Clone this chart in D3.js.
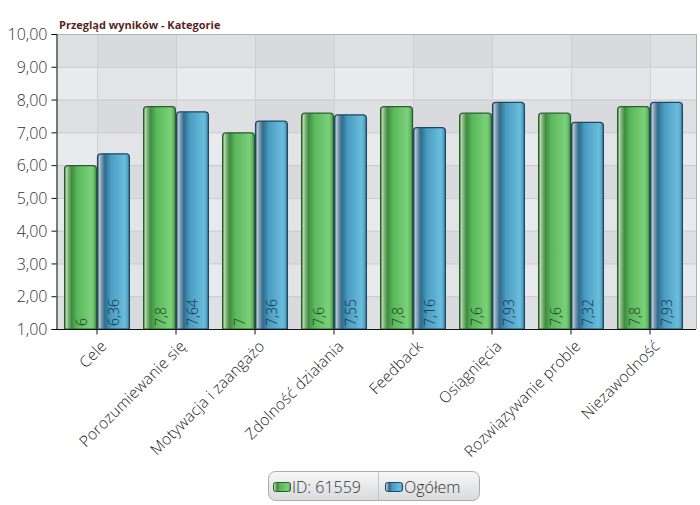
<!DOCTYPE html>
<html><head><meta charset="utf-8">
<script src="https://cdn.jsdelivr.net/npm/d3@7"></script>
<style>body{margin:0;background:#fff}svg{display:block}</style>
</head><body>
<script>
const title = "Przegląd wyników - Kategorie";
const categories = ["Cele","Porozumiewanie się","Motywacja i zaangażo","Zdolność działania","Feedback","Osiągnięcia","Rozwiązywanie proble","Niezawodność"];
const seriesNames = ["ID: 61559","Ogółem"];
const seriesA = [6,7.8,7,7.6,7.8,7.6,7.6,7.8];
const seriesB = [6.36,7.64,7.36,7.55,7.16,7.93,7.32,7.93];
const yTicks = [1,2,3,4,5,6,7,8,9,10];

const W=700,H=505;
const m={l:56,t:34,r:696,b:329};
const svg=d3.select("body").append("svg").attr("width",W).attr("height",H);
const defs=svg.append("defs");
function grad(id,stops,vertical){
  const g=defs.append("linearGradient").attr("id",id).attr("x1",0).attr("y1",0).attr("x2",vertical?0:1).attr("y2",vertical?1:0);
  stops.forEach(s=>g.append("stop").attr("offset",s[0]).attr("stop-color",s[1]));
}
grad("gG",[[0,"#4f8f4f"],[0.06,"#b4d4ac"],[0.13,"#78ae74"],[0.22,"#3f8c3f"],[0.4,"#5bb85b"],[0.85,"#7bd17b"],[0.96,"#5aae5a"],[1,"#2f6f2f"]]);
grad("gB",[[0,"#3a6a88"],[0.06,"#b6c4d0"],[0.14,"#7692a8"],[0.23,"#2c6d8f"],[0.42,"#4a9cc2"],[0.86,"#6bbddc"],[0.96,"#4f9ec0"],[1,"#245e7c"]]);
grad("gL",[[0,"#f7f7f7"],[1,"#d9dadc"]],true);

const x=d3.scaleBand().domain(categories).range([m.l+1.5,689.5]).paddingInner(0).paddingOuter(0);
const y=d3.scaleLinear().domain([1,10]).range([m.b,m.t]);
const xs=d3.scaleBand().domain([0,1]).range([0,x.bandwidth()]).paddingInner(0).paddingOuter(0.2);

// background bands
const plot=svg.append("g");
plot.append("rect").attr("x",m.l).attr("y",m.t).attr("width",m.r-m.l).attr("height",m.b-m.t).attr("fill","#e6e7ea");
yTicks.slice(0,-1).forEach((t,i)=>{
  plot.append("rect").attr("x",m.l).attr("y",y(t+1)).attr("width",m.r-m.l).attr("height",y(t)-y(t+1))
    .attr("fill",(9-i)%2===0?"#e9eaed":"#dfe0e4");
});
categories.forEach((c,i)=>{
  if(i%2===0){
    const cx=x(c)+x.bandwidth()/2;
    plot.append("rect").attr("x",cx).attr("y",m.t).attr("width",x.bandwidth()).attr("height",m.b-m.t)
      .attr("fill","#000").attr("opacity",0.025);
  }
});
// grid
yTicks.forEach(t=>plot.append("line").attr("x1",m.l).attr("x2",m.r).attr("y1",y(t)+0.5).attr("y2",y(t)+0.5).attr("stroke","#c9cace"));
categories.forEach(c=>{const cx=Math.round(x(c)+x.bandwidth()/2)+0.5;
  plot.append("line").attr("x1",cx).attr("x2",cx).attr("y1",m.t).attr("y2",m.b).attr("stroke","#cfd0d4");});
plot.append("line").attr("x1",m.r+0.5).attr("x2",m.r+0.5).attr("y1",m.t).attr("y2",m.b).attr("stroke","#b0b1b5");
plot.append("line").attr("x1",m.l).attr("x2",m.r).attr("y1",m.t+0.5).attr("y2",m.t+0.5).attr("stroke","#b0b1b5");

// title
svg.append("text").attr("x",59).attr("y",29).text(title).attr("font-family","'Open Sans',sans-serif")
  .attr("font-weight","bold").attr("font-size",11).attr("fill","#5a1f22");

// bars
function barPath(x0,y0,w,h,r){
  return `M${x0},${y0+h}V${y0+r}Q${x0},${y0} ${x0+r},${y0}H${x0+w-r}Q${x0+w},${y0} ${x0+w},${y0+r}V${y0+h}Z`;
}
const fmt=v=>String(v).replace(".",",");
const series=[seriesA,seriesB];
const fills=["url(#gG)","url(#gB)"],strokes=["#2c5e2c","#1d4a61"],txt=["#1b3a1b","#162e44"];
series.forEach((vals,s)=>{
  const g=svg.append("g");
  vals.forEach((v,i)=>{
    const bx=x(categories[i])+xs(s), bw=xs.bandwidth();
    g.append("path").attr("d",barPath(bx+0.5,y(v)+0.5,bw-1,m.b-y(v)-0.5,3.5))
      .attr("fill",fills[s]).attr("stroke",strokes[s]).attr("stroke-width",1.2);
    const tx=bx+bw/2+6, ty=m.b-3;
    g.append("text").attr("transform",`translate(${tx},${ty}) rotate(-90)`).text(fmt(v))
      .attr("font-family","'Open Sans',sans-serif").attr("font-weight",300).attr("font-size",14).attr("fill",txt[s]);
  });
});

// axes
const ya=svg.append("g").attr("transform",`translate(${m.l+0.5},0)`)
  .call(d3.axisLeft(y).tickValues(yTicks).tickSize(5).tickFormat(d=>d3.format(".2f")(d).replace(".",",")));
ya.select(".domain").attr("stroke","#111");
ya.selectAll(".tick line").attr("stroke","#111");
ya.selectAll("text").attr("font-family","'Open Sans',sans-serif").attr("font-weight",300).attr("font-size",16).attr("fill","#333").attr("dx","-1").attr("dy","0.36em");

const xa=svg.append("g").attr("transform",`translate(0,${m.b+0.5})`)
  .call(d3.axisBottom(x).tickSize(5).tickSizeOuter(0));
xa.select(".domain").attr("stroke","#111").attr("d",`M${m.l},0H${m.r}`);
xa.selectAll(".tick line").attr("stroke","#111");
xa.selectAll("text").attr("font-family","'Open Sans',sans-serif").attr("font-weight",300).attr("font-size",15.5).attr("letter-spacing","0.2px").attr("fill","#222")
  .attr("text-anchor","end").attr("transform","translate(3,10) rotate(-45)").attr("dy","0.7em").attr("y",0);

// legend
const lg=svg.append("g");
lg.append("rect").attr("x",268.5).attr("y",471.5).attr("width",211).attr("height",29).attr("rx",7)
  .attr("fill","url(#gL)").attr("stroke","#a9abae");
lg.append("line").attr("x1",378.5).attr("x2",378.5).attr("y1",472).attr("y2",500).attr("stroke","#c4c5c8");
const items=[{x:273,c:"url(#gG)",s:"#2c5e2c"},{x:385,c:"url(#gB)",s:"#1d4a61"}];
items.forEach((it,i)=>{
  lg.append("rect").attr("x",it.x+0.5).attr("y",482.5).attr("width",17).attr("height",9).attr("rx",2)
    .attr("fill",it.c).attr("stroke",it.s);
  lg.append("text").attr("x",it.x+19).attr("y",493).text(seriesNames[i])
    .attr("font-family","'Open Sans',sans-serif").attr("font-weight",300).attr("font-size",16).attr("fill","#333");
});
</script>
</body></html>
